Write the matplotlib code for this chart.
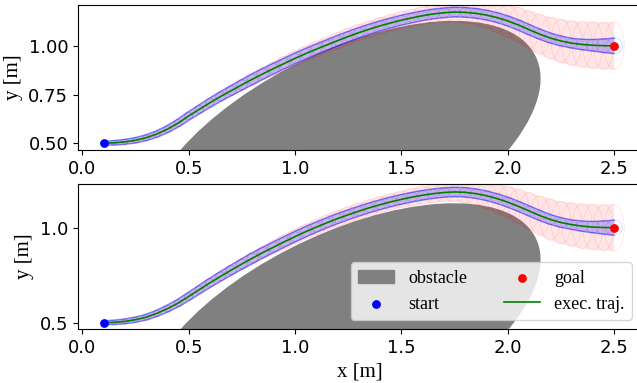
import matplotlib
matplotlib.use("Agg")
import numpy as np
import matplotlib.pyplot as plt
from matplotlib.patches import Ellipse

# trajectory samples (same x grid for both runs)
traj_x = [0.10, 0.15, 0.20, 0.25, 0.30, 0.35, 0.40, 0.45, 0.50, 0.55,
          0.60, 0.65, 0.70, 0.75, 0.80, 0.85, 0.90, 0.95, 1.00, 1.05,
          1.10, 1.15, 1.20, 1.25, 1.30, 1.35, 1.40, 1.45, 1.50, 1.55,
          1.60, 1.65, 1.70, 1.75, 1.80, 1.85, 1.90, 1.95, 2.00, 2.05,
          2.10, 2.15, 2.20, 2.25, 2.30, 2.35, 2.40, 2.45, 2.50]
top_y = [0.500, 0.502, 0.507, 0.515, 0.528, 0.547, 0.572, 0.603, 0.640, 0.674,
         0.708, 0.740, 0.770, 0.800, 0.829, 0.857, 0.884, 0.910, 0.936, 0.960,
         0.983, 1.005, 1.027, 1.048, 1.068, 1.086, 1.103, 1.118, 1.132, 1.144,
         1.155, 1.164, 1.170, 1.174, 1.172, 1.167, 1.158, 1.145, 1.128, 1.107,
         1.083, 1.060, 1.040, 1.025, 1.014, 1.007, 1.003, 1.001, 1.000]
bot_y = [0.500, 0.502, 0.507, 0.516, 0.529, 0.549, 0.574, 0.603, 0.638, 0.674,
         0.710, 0.744, 0.777, 0.809, 0.840, 0.870, 0.898, 0.926, 0.953, 0.979,
         1.003, 1.026, 1.048, 1.068, 1.087, 1.105, 1.121, 1.136, 1.149, 1.161,
         1.171, 1.179, 1.185, 1.188, 1.186, 1.179, 1.168, 1.153, 1.134, 1.112,
         1.088, 1.064, 1.043, 1.027, 1.016, 1.008, 1.003, 1.001, 1.000]

# uncertainty half-sizes along the trajectory
blue_r = [0.010, 0.012, 0.013, 0.014, 0.015, 0.016, 0.017, 0.018, 0.019, 0.020,
          0.021, 0.022, 0.023, 0.024, 0.025, 0.025, 0.025, 0.025, 0.025, 0.025,
          0.025, 0.025, 0.025, 0.025, 0.025, 0.025, 0.025, 0.025, 0.025, 0.025,
          0.025, 0.025, 0.025, 0.025, 0.025, 0.025, 0.025, 0.025, 0.025, 0.025,
          0.025, 0.025, 0.025, 0.025, 0.025, 0.027, 0.030, 0.035, 0.040]
red_sy = [0.010, 0.012, 0.013, 0.014, 0.015, 0.016, 0.017, 0.018, 0.019, 0.020,
          0.022, 0.024, 0.026, 0.028, 0.030, 0.032, 0.034, 0.036, 0.037, 0.038,
          0.039, 0.040, 0.041, 0.042, 0.042, 0.042, 0.042, 0.043, 0.044, 0.045,
          0.046, 0.047, 0.049, 0.052, 0.057, 0.063, 0.070, 0.077, 0.084, 0.091,
          0.097, 0.103, 0.108, 0.112, 0.115, 0.118, 0.120, 0.121, 0.122]
red_sx = [0.010, 0.012, 0.013, 0.014, 0.015, 0.016, 0.017, 0.018, 0.019, 0.020,
          0.022, 0.024, 0.026, 0.028, 0.030, 0.032, 0.034, 0.036, 0.037, 0.038,
          0.039, 0.040, 0.041, 0.042, 0.042, 0.042, 0.042, 0.043, 0.044, 0.045,
          0.046, 0.047, 0.047, 0.047, 0.047, 0.047, 0.047, 0.047, 0.047, 0.047,
          0.047, 0.047, 0.047, 0.047, 0.047, 0.047, 0.047, 0.047, 0.047]

start = (0.1, 0.5)
goal = (2.5, 1.0)
obst_center = (1.22, 0.45)
obst_w, obst_h, obst_angle = 2.07, 1.0, 30

serif = {'family': 'Liberation Serif', 'size': 15}


def tube(ax, ys, sx, sy):
    # envelope of the ellipses along the path, worked out in screen space
    pts = ax.transData.transform(np.column_stack([traj_x, ys]))
    sc = ax.transData.transform([(1, 1)])[0] - ax.transData.transform([(0, 0)])[0]
    t = np.gradient(pts, axis=0)
    t = t / np.linalg.norm(t, axis=1)[:, None]
    n = np.column_stack([-t[:, 1], t[:, 0]])
    a = np.array(sx) * sc[0]
    b = np.array(sy) * sc[1]
    h = np.sqrt((a * n[:, 0]) ** 2 + (b * n[:, 1]) ** 2)
    off = np.column_stack([a ** 2 * n[:, 0] / h, b ** 2 * n[:, 1] / h])
    inv = ax.transData.inverted()
    return inv.transform(pts + off), inv.transform(pts - off)


def draw_panel(ax, ys):
    ax.add_patch(Ellipse(obst_center, obst_w, obst_h, angle=obst_angle,
                         color='gray', label='obstacle'))

    up, lo = tube(ax, ys, red_sx, red_sy)
    poly = np.vstack([up, lo[::-1]])
    ax.fill(poly[:, 0], poly[:, 1], color='red', alpha=0.10, lw=0)
    for x, y, sx, sy in zip(traj_x, ys, red_sx, red_sy):
        ax.add_patch(Ellipse((x, y), 2 * sx, 2 * sy, fill=False,
                             edgecolor=(1, 0, 0, 0.12), lw=0.5))

    up, lo = tube(ax, ys, blue_r, blue_r)
    poly = np.vstack([up, lo[::-1]])
    ax.fill(poly[:, 0], poly[:, 1], color='blue', alpha=0.22, lw=0)
    ax.plot(up[:, 0], up[:, 1], color='blue', alpha=0.45, lw=1.0)
    ax.plot(lo[:, 0], lo[:, 1], color='blue', alpha=0.45, lw=1.0)
    for x, y, r in zip(traj_x, ys, blue_r):
        ax.add_patch(Ellipse((x, y), 2 * r, 2 * r, fill=False,
                             edgecolor=(0, 0, 1, 0.18), lw=0.5))

    ax.plot(traj_x, ys, color='green', lw=1.2, label='exec. traj.')
    ax.scatter(*start, s=28, color='blue', zorder=5, label='start')
    ax.scatter(*goal, s=28, color='red', zorder=5, label='goal')
    ax.set_ylabel('y [m]', fontdict=serif)
    ax.tick_params(labelsize=13)


fig, (ax1, ax2) = plt.subplots(2, 1, figsize=(6.37, 3.83), dpi=100)
fig.subplots_adjust(left=0.1225, right=1.006, top=0.987, bottom=0.141, hspace=0.234)

limits = {ax1: (0.465, 1.21), ax2: (0.467, 1.23)}
for ax in (ax1, ax2):
    ax.set_xlim(-0.02, 2.625)
    ax.set_ylim(*limits[ax])
    ax.set_xticks([0.0, 0.5, 1.0, 1.5, 2.0, 2.5])

draw_panel(ax1, top_y)
ax1.set_yticks([0.5, 0.75, 1.0])
ax1.set_yticklabels(['0.50', '0.75', '1.00'])

draw_panel(ax2, bot_y)
ax2.set_yticks([0.5, 1.0])
ax2.set_xlabel('x [m]', fontdict=serif)

for ax in (ax1, ax2):
    ax.set_xlim(-0.02, 2.625)
    ax.set_ylim(*limits[ax])

h, l = ax2.get_legend_handles_labels()
order = [l.index(k) for k in ['obstacle', 'start', 'goal', 'exec. traj.']]
ax2.legend([h[i] for i in order], [l[i] for i in order], ncol=2, loc='lower right',
           prop={'family': 'Liberation Serif', 'size': 13})

fig.savefig('out.png', dpi=100)
